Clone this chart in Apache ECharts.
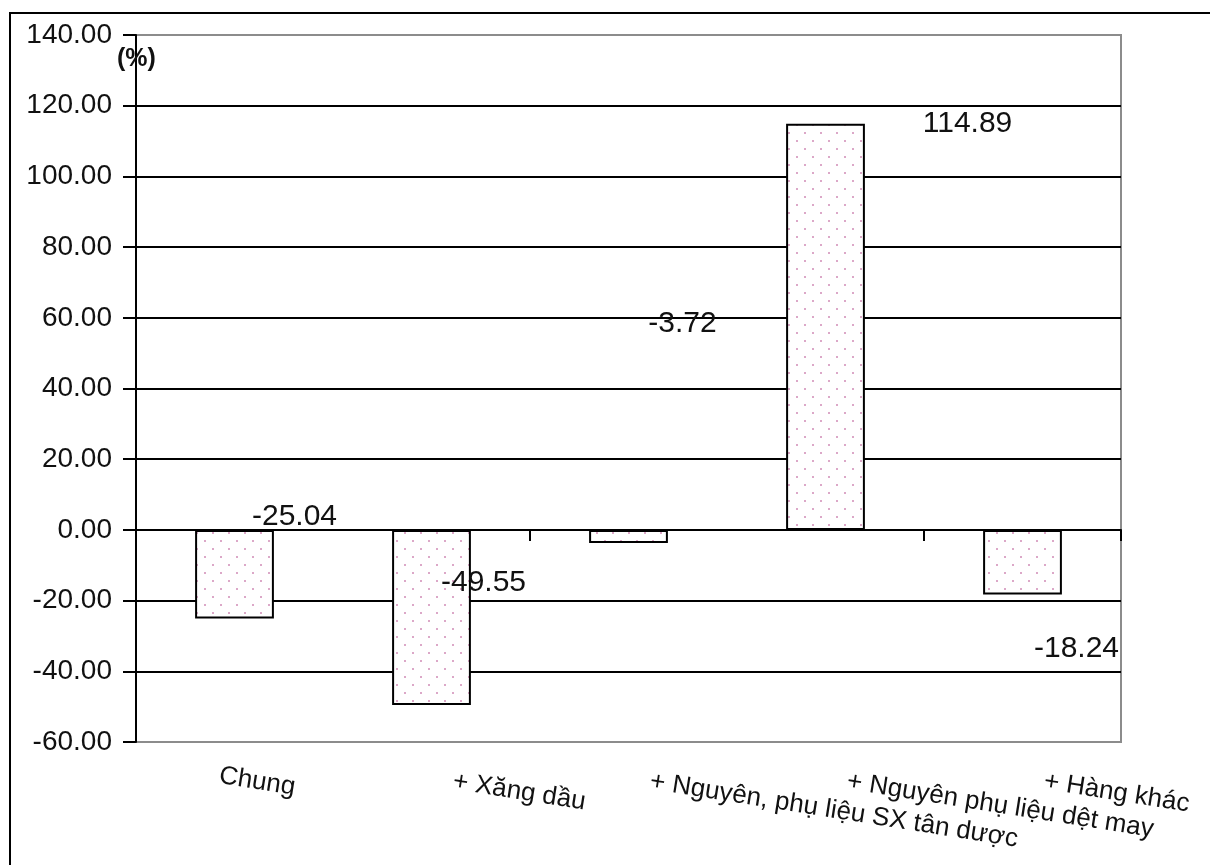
<!DOCTYPE html>
<html>
<head>
<meta charset="utf-8">
<script src="https://cdn.jsdelivr.net/npm/echarts@6/dist/echarts.min.js"></script>
<style>
html,body{margin:0;padding:0;background:#fff;}
#chart{width:1210px;height:865px;}
</style>
</head>
<body>
<div id="chart"></div>
<script>
// ---- data ----
const categories = ['Chung', '+ Xăng dầu', '+ Nguyên, phụ liệu SX tân dược', '+ Nguyên phụ liệu dệt may', '+ Hàng khác'];
const values = [-25.04, -49.55, -3.72, 114.89, -18.24];
const yTicks = { min: -60, max: 140, interval: 20 };
const unitLabel = '(%)';

// ---- styling (label offsets relative to bar centre, in px) ----
const labelOffsets = [[60, -57], [52, -35], [54, -213], [142, -203], [54, 87]];
const categoryLabelStyles = [{ align: 'center', padding: [0, 0, 0, 46] }, {}, {}, {}, {}];

function dotPattern() {
  const c = document.createElement('canvas');
  c.width = 16; c.height = 16;
  const g = c.getContext('2d');
  g.fillStyle = '#ffffff';
  g.fillRect(0, 0, 16, 16);
  g.fillStyle = '#dca8c8';
  g.fillRect(4, 4, 2, 2);
  g.fillRect(12, 12, 2, 2);
  return c;
}

const chart = echarts.init(document.getElementById('chart'), null, { renderer: 'canvas' });
const font = "'Liberation Sans', Arial, sans-serif";
const splitColors = [];
for (let v = yTicks.min; v <= yTicks.max; v += yTicks.interval) {
  splitColors.push((v === yTicks.min || v === yTicks.max) ? '#8c8c8c' : '#000000');
}

const option = {
  animation: false,
  backgroundColor: '#ffffff',
  grid: { left: 136, top: 35, right: 89, bottom: 123, show: true, borderColor: '#8c8c8c', borderWidth: 2, backgroundColor: 'transparent' },
  graphic: [
    { type: 'line', shape: { x1: 10, y1: 13, x2: 10, y2: 880 }, style: { stroke: '#000', lineWidth: 2 }, z: 100 },
    { type: 'line', shape: { x1: 9, y1: 13, x2: 1220, y2: 13 }, style: { stroke: '#000', lineWidth: 2 }, z: 100 },
    { type: 'text', left: 117, top: 47, style: { text: unitLabel, font: "bold 25px 'Liberation Sans', Arial, sans-serif", fill: '#111' }, z: 100 }
  ],
  xAxis: [
    {
      type: 'category', position: 'bottom',
      data: categories.map((c, i) => ({ value: c, textStyle: categoryLabelStyles[i] })),
      axisLine: { show: false, onZero: false }, axisTick: { show: false },
      axisLabel: {
        interval: 0, rotate: -9, align: 'left', verticalAlign: 'top', margin: 36,
        fontFamily: font, fontSize: 26, color: '#111', padding: [0, 0, 0, 22]
      }
    },
    {
      type: 'category', data: categories, position: 'bottom',
      axisLine: { show: true, onZero: true, lineStyle: { color: '#000', width: 2 } },
      axisTick: { show: true, inside: false, length: 11, lineStyle: { color: '#000', width: 2 } },
      axisLabel: { show: false }
    }
  ],
  yAxis: {
    type: 'value', min: yTicks.min, max: yTicks.max, interval: yTicks.interval,
    axisLine: { show: true, lineStyle: { color: '#000', width: 2 } },
    axisTick: { show: true, length: 13, lineStyle: { color: '#000', width: 2 } },
    axisLabel: { formatter: v => v.toFixed(2), fontFamily: font, fontSize: 28, color: '#111', margin: 24 },
    splitLine: { show: true, lineStyle: { color: splitColors, width: 2 } }
  },
  series: [{
    type: 'bar',
    xAxisIndex: 0,
    barWidth: '40%',
    data: values.map((v, i) => ({
      value: v,
      label: { offset: labelOffsets[i] }
    })),
    itemStyle: { color: { image: dotPattern(), repeat: 'repeat' }, borderColor: '#000', borderWidth: 2 },
    label: {
      show: true, position: 'inside', formatter: p => p.value.toFixed(2),
      fontFamily: font, fontSize: 30, color: '#111'
    },
    z: 3
  }]
};
chart.setOption(option);
</script>
</body>
</html>
